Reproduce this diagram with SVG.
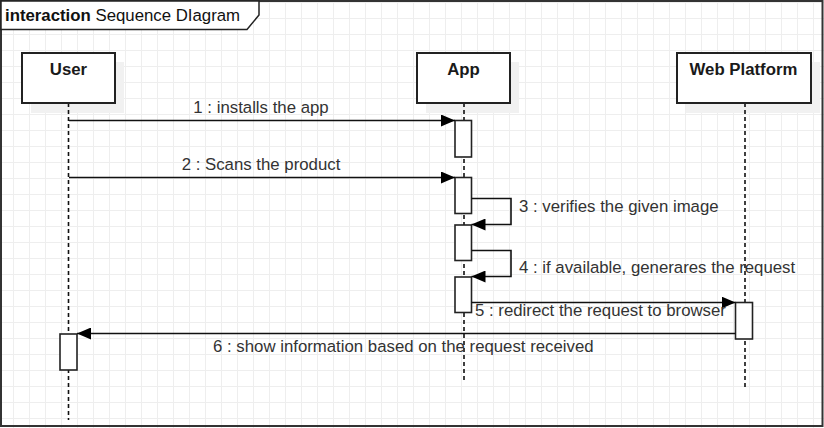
<svg xmlns="http://www.w3.org/2000/svg" width="824" height="428" viewBox="0 0 824 428">
<style>
text{font-family:"Liberation Sans",Arial,sans-serif;font-size:16.8px;fill:#333}
.hd{font-weight:bold;fill:#1a1a1a;text-anchor:middle}
.box{fill:#fff;stroke:#222;stroke-width:2}
.sh{fill:#f1f1f1}
.life{stroke:#111;stroke-width:1.6;stroke-dasharray:4 3;fill:none}
.act{fill:#fff;stroke:#222;stroke-width:1.6}
.msg{stroke:#111;stroke-width:1.6;fill:none;marker-end:url(#arr)}
</style>
<defs>
<pattern id="grid" x="13" y="2" width="16" height="16" patternUnits="userSpaceOnUse">
<path d="M0 0.5H16M0.5 0V16" stroke="#eeeeee" stroke-width="1" fill="none"/>
</pattern>
<marker id="arr" markerUnits="userSpaceOnUse" markerWidth="14" markerHeight="12" refX="14" refY="6" orient="auto">
<path d="M0 0L14 6L0 12z" fill="#000"/>
</marker>
</defs>
<rect width="824" height="428" fill="#fff"/>
<rect width="824" height="428" fill="url(#grid)"/>
<g id="frame">
<rect x="1" y="1" width="821.5" height="425" fill="none" stroke="#333" stroke-width="2"/>
<path d="M1 1H259V15L247 29.5H1z" fill="#fff" stroke="#222" stroke-width="1.5"/>
<text x="5" y="21" style="fill:#111"><tspan font-weight="bold">interaction</tspan> Sequence DIagram</text>
</g>
<g id="user">
<rect class="sh" x="31" y="62" width="93" height="51"/>
<line class="life" x1="68.5" y1="103" x2="68.5" y2="420"/>
<rect class="box" x="22" y="53" width="93" height="50"/>
<text class="hd" x="68.5" y="75">User</text>
<rect class="act" x="60" y="334" width="17" height="36"/>
</g>
<g id="app">
<rect class="sh" x="426" y="62" width="93" height="51"/>
<line class="life" x1="464" y1="103" x2="464" y2="381"/>
<rect class="box" x="417" y="53" width="93" height="50"/>
<text class="hd" x="463.5" y="75">App</text>
<rect class="act" x="455" y="120.5" width="16.5" height="36.5"/>
<rect class="act" x="455" y="177.5" width="16.5" height="36"/>
<rect class="act" x="455" y="225" width="16.5" height="35.5"/>
<rect class="act" x="455" y="277" width="16.5" height="35.5"/>
</g>
<g id="web">
<rect class="sh" x="686" y="62" width="134" height="51"/>
<line class="life" x1="745" y1="103" x2="745" y2="388"/>
<rect class="box" x="677" y="53" width="134" height="50"/>
<text class="hd" x="743.5" y="75">Web Platform</text>
<rect class="act" x="735.5" y="302.5" width="17" height="36.5"/>
</g>
<g id="connectors">
<path class="msg" d="M69 120.5H455"/>
<path class="msg" d="M69 177.5H455"/>
<path class="msg" d="M471.5 198.5H511V224.5H471.5"/>
<path class="msg" d="M471.5 250.5H511V276.5H471.5"/>
<path class="msg" d="M471.5 302.5H735.5"/>
<path class="msg" d="M735.5 333.5H77"/>
<text x="261" y="112.5" text-anchor="middle">1 : installs the app</text>
<text x="261" y="170" text-anchor="middle">2 : Scans the product</text>
<text x="519" y="212">3 : verifies the given image</text>
<text x="519" y="273">4 : if available, generares the request</text>
<text x="475" y="316">5 : redirect the request to browser</text>
<text x="213" y="352">6 : show information based on the request received</text>
</g>
</svg>
